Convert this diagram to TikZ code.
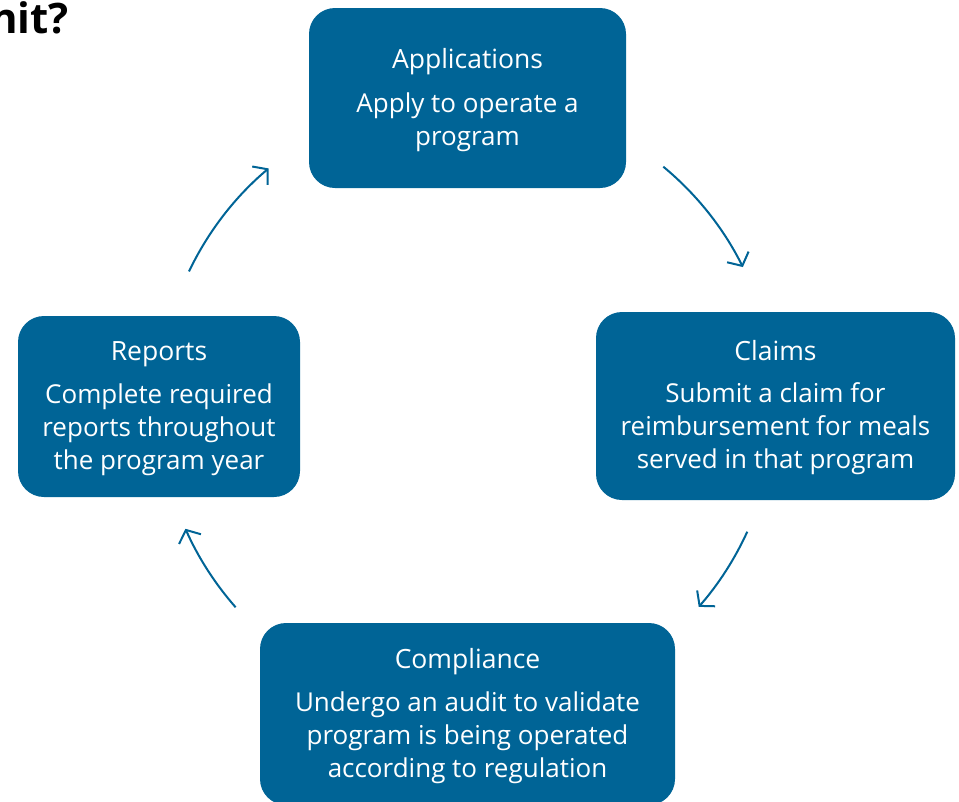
\documentclass[tikz,border=0pt]{standalone}
\usepackage{fontspec}
\setmainfont{Open Sans}
\usetikzlibrary{arrows.meta}
\definecolor{boxblue}{RGB}{0,100,150}
\tikzset{
  stagebox/.style={fill=boxblue, draw=none, rounded corners=26pt, inner sep=0pt},
  stagetitle/.style={text=white, font=\fontsize{26.5}{33}\selectfont, anchor=base, inner sep=0pt},
  stagebody/.style={text=white, font=\fontsize{26}{33}\selectfont, align=center, anchor=base, inner sep=0pt},
  cyclearrow/.style={draw=boxblue, line width=2pt, -{Straight Barb[length=10pt, width=24pt, line width=2pt]}}
}
\begin{document}
\begin{tikzpicture}[x=1pt, y=-1pt]
\useasboundingbox (0,0) rectangle (959,801);
% heading fragment
\node[anchor=base east, inner sep=0pt, font=\fontsize{42}{44}\selectfont\bfseries] (heading) at (69,33) {nit?};
% boxes
\node[stagebox, minimum width=317pt, minimum height=180pt] (app) at (467.5,98) {};
\node[stagebox, minimum width=359pt, minimum height=188pt] (claims) at (775.5,406) {};
\node[stagebox, minimum width=282pt, minimum height=181pt] (reports) at (159,406.5) {};
\node[stagebox, minimum width=415pt, minimum height=182pt] (comp) at (467.5,714) {};
% texts (body anchor = baseline of last line)
\node[stagetitle] (appT) at (467.5,68) {Applications};
\node[stagebody] (appB) at (467.5,145) {Apply to operate a\\program};
\node[stagetitle] (claimsT) at (775.5,360) {Claims};
\node[stagebody] (claimsB) at (775.5,468) {Submit a claim for\\reimbursement for meals\\served in that program};
\node[stagetitle] (reportsT) at (159,360) {Reports};
\node[stagebody] (reportsB) at (159,469) {Complete required\\reports throughout\\the program year};
\node[stagetitle] (compT) at (467.5,668) {Compliance};
\node[stagebody] (compB) at (467.5,777) {Undergo an audit to validate\\program is being operated\\according to regulation};
% arrows on a circle
\coordinate (ctr) at (467,404);
\path (ctr) ++(-50.4:308) coordinate (s1);
\path (ctr) ++(24.5:308) coordinate (s2);
\path (ctr) ++(138.7:308) coordinate (s3);
\path (ctr) ++(205.5:308) coordinate (s4);
\draw[cyclearrow] (s1) arc[start angle=-50.4, end angle=-26.4, radius=308];
\draw[cyclearrow] (s2) arc[start angle=24.5, end angle=41.2, radius=308];
\draw[cyclearrow] (s3) arc[start angle=138.7, end angle=156.1, radius=308];
\draw[cyclearrow] (s4) arc[start angle=205.5, end angle=229.9, radius=308];
\end{tikzpicture}
\end{document}
